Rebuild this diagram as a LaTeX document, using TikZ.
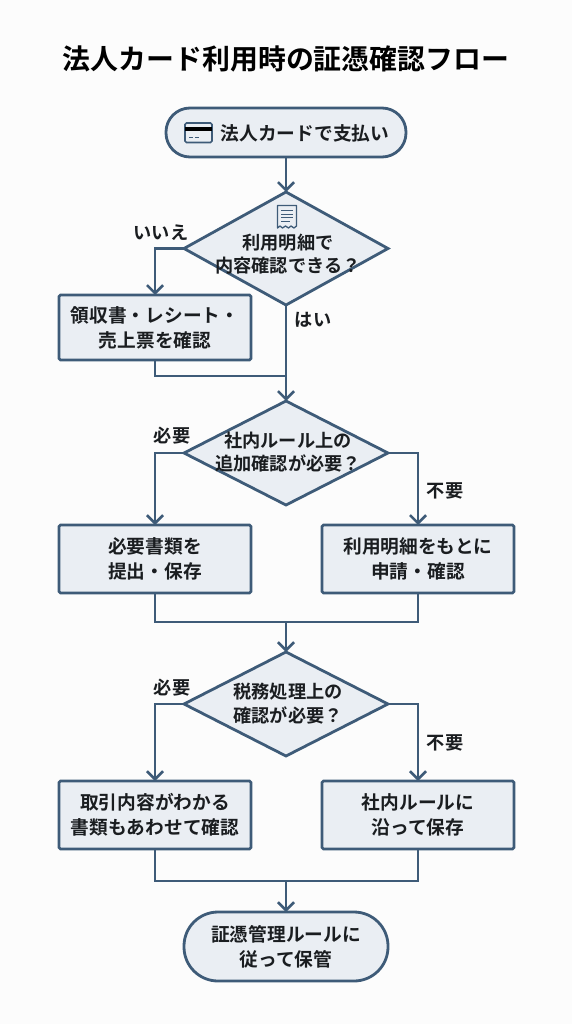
\documentclass[tikz,border=0pt]{standalone}
\usepackage{fontspec}
\setmainfont{Noto Sans CJK JP}[BoldFont={Noto Sans CJK JP Bold}]
\usetikzlibrary{shapes.geometric,arrows.meta,calc}
\definecolor{stroke}{HTML}{3E5B78}
\definecolor{fillc}{HTML}{EAEEF3}
\definecolor{bgc}{HTML}{FCFCFC}
\definecolor{ink}{HTML}{1A1D20}
\tikzset{
  x=1pt,y=-1pt,
  shp/.style={draw=stroke,fill=fillc,line width=2.8pt,inner sep=0pt,outer sep=0pt},
  boxn/.style={shp,rectangle,rounded corners=1.5pt,minimum width=192pt,minimum height=68pt},
  pill/.style={shp,rectangle,rounded corners=24pt},
  dia/.style={shp,diamond,minimum width=204pt,minimum height=104pt},
  txt/.style={text=ink,font=\fontsize{18.7}{24.5}\selectfont\bfseries,align=center,inner sep=0pt},
  tighttxt/.style={txt,font=\fontsize{18.2}{22.5}\selectfont\bfseries},
  lab/.style={text=ink,font=\fontsize{18.2}{20}\selectfont\bfseries,inner sep=0pt},
  conn/.style={draw=stroke,line width=2.8pt},
  arr/.style={conn,-{Straight Barb[length=8pt,width=16pt,line width=2.6pt]}},
  icon/.style={draw=stroke,line width=1.3pt},
}
\begin{document}
\begin{tikzpicture}
\useasboundingbox (0,0) rectangle (572,1024);
\fill[bgc] (0,0) rectangle (572,1024);
\node[text=black,font=\fontsize{27.9}{30}\selectfont\bfseries,inner sep=0pt] (title) at (286,59) {法人カード利用時の証憑確認フロー};

\node[pill,minimum width=240pt,minimum height=49pt] (start) at (286,132.5) {};
\node[txt] (starttext) at (305,133) {法人カードで支払い};
\node[dia,minimum height=113pt] (d1) at (286,248.5) {};
\node[tighttxt] (d1text) at (288,254) {利用明細で\\内容確認できる？};
\node[boxn,minimum height=65pt] (b1) at (155,327.5) {};
\node[txt] (b1text) at (155,328) {領収書・レシート・\\売上票を確認};
\node[dia] (d2) at (286,453) {};
\node[tighttxt] (d2text) at (288,452) {社内ルール上の\\追加確認が必要？};
\node[boxn] (b2) at (155,559) {};
\node[txt] (b2text) at (155,559) {必要書類を\\提出・保存};
\node[boxn] (b3) at (418,559) {};
\node[txt] (b3text) at (418,559) {利用明細をもとに\\申請・確認};
\node[dia] (d3) at (286,704) {};
\node[tighttxt,font=\fontsize{18.2}{24}\selectfont\bfseries] (d3text) at (288,704) {税務処理上の\\確認が必要？};
\node[boxn] (b4) at (155,815) {};
\node[txt] (b4text) at (155,815) {取引内容がわかる\\書類もあわせて確認};
\node[boxn] (b5) at (418,815) {};
\node[txt] (b5text) at (418,815) {社内ルールに\\沿って保存};
\node[pill,minimum width=204pt,minimum height=69pt,rounded corners=34pt] (end) at (286,946.5) {};
\node[txt] (endtext) at (286,947) {証憑管理ルールに\\従って保管};

\coordinate (m1) at (286,376);
\coordinate (m2) at (286,622);
\coordinate (m3) at (286,881);

\draw[arr] (start.south) -- (d1.north);
\draw[arr] (d1.west) -| (b1.north);
\draw[arr] (d1.south) -- (d2.north);
\draw[conn] (b1.south) |- (m1);
\draw[arr] (d2.west) -| (b2.north);
\draw[arr] (d2.east) -| (b3.north);
\draw[conn] (b2.south) |- (m2);
\draw[conn] (b3.south) |- (m2);
\draw[arr] (m2) -- (d3.north);
\draw[arr] (d3.west) -| (b4.north);
\draw[arr] (d3.east) -| (b5.north);
\draw[conn] (b4.south) |- (m3);
\draw[conn] (b5.south) |- (m3);
\draw[arr] (m3) -- (end.north);

\node[lab] (l1) at (161,233) {いいえ};
\node[lab] (l2) at (313,320) {はい};
\node[lab] (l3) at (172,436) {必要};
\node[lab] (l4) at (445,491) {不要};
\node[lab] (l5) at (172,688) {必要};
\node[lab] (l6) at (445,743) {不要};

% card icon
\draw[icon,line width=1.6pt,rounded corners=1.5pt] (185,123) rectangle (212,142.5);
\fill[stroke] (185,127.5) rectangle (212,131.5);
\draw[icon,line width=1.2pt] (189,137.5) -- (193,137.5) (195,137.5) -- (198.5,137.5);
% receipt icon
\draw[icon,line join=round] (277.5,205.5) -- (296.5,205.5) -- (296.5,226) -- (294,228) -- (291,226) -- (288.5,228) -- (285.5,226) -- (282.5,228) -- (280,226) -- (277.5,228) -- cycle;
\draw[icon,line width=1pt] (281,211) -- (293,211) (281,214.5) -- (293,214.5) (281,218) -- (293,218) (281,221.5) -- (290,221.5);
\end{tikzpicture}
\end{document}
